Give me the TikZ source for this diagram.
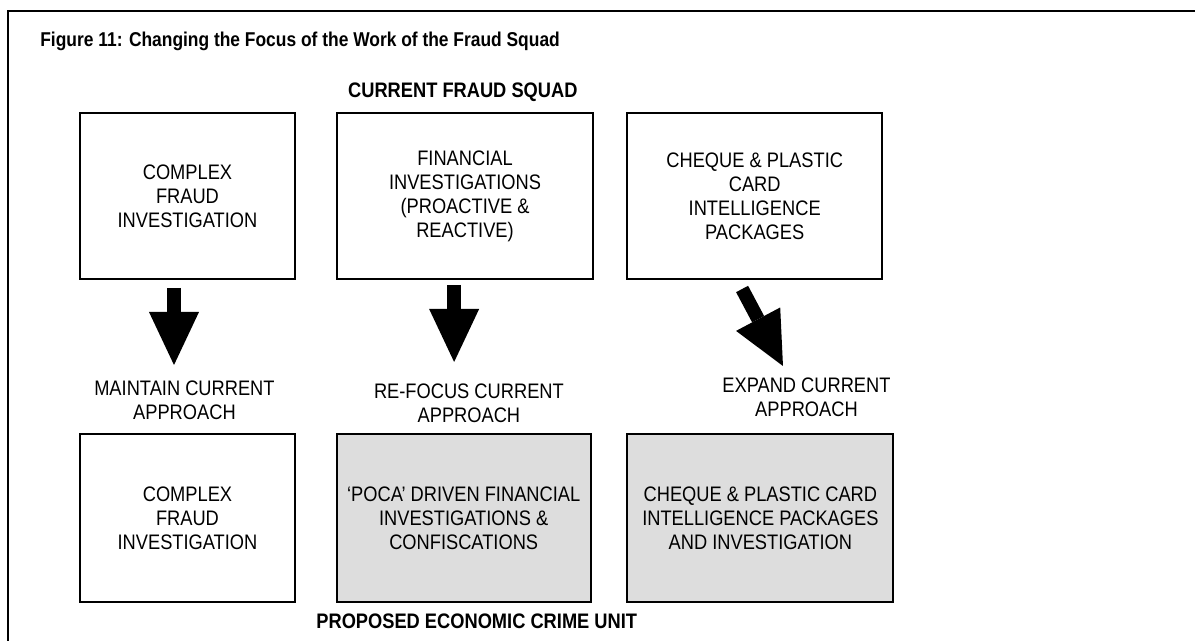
\documentclass[tikz,border=0pt]{standalone}
\usepackage{fontspec}
\setmainfont{Liberation Sans}
\usetikzlibrary{arrows.meta}
\definecolor{boxgray}{RGB}{221,221,221}

\begin{document}
\begin{tikzpicture}[x=0.5pt, y=-0.5pt, xscale=0.87,
  every node/.style={font=\fontsize{10.5}{12}\selectfont, inner sep=0pt, transform shape},
  box/.style={draw, line width=1pt, align=center},
  greybox/.style={box, fill=boxgray},
  lbl/.style={align=center},
  hd/.style={font=\fontsize{10.5}{12}\selectfont\bfseries},
  bigarrow/.style={line width=6.8pt, -{Triangle[length=26.5pt, width=25pt, line width=0pt]}}]
\useasboundingbox (0,0) rectangle (1373.6,641);
\clip (0,0) rectangle (1373.6,641);
\draw[line width=1pt] (9,11) rectangle (1400,670);
\node[hd, font=\fontsize{10}{12}\selectfont\bfseries, anchor=base west] (title) at (46,47) {Figure 11: Changing the Focus of the Work of the Fraud Squad};
\node[hd, anchor=base] (current) at (532,98) {CURRENT FRAUD SQUAD};
\node[box, minimum width=123.5pt, minimum height=83pt] (cfi) at (215.5,196) {COMPLEX\\FRAUD\\INVESTIGATION};
\node[box, minimum width=147.5pt, minimum height=83pt] (fin) at (534.5,196) {FINANCIAL\\INVESTIGATIONS\\(PROACTIVE \&\\REACTIVE)};
\node[box, minimum width=146.5pt, minimum height=83pt] (cheque) at (867.5,196) {CHEQUE \& PLASTIC\\CARD\\INTELLIGENCE\\PACKAGES};
\coordinate (a1s) at (200,288);
\coordinate (a1e) at (200,365);
\coordinate (a2s) at (522,285);
\coordinate (a2e) at (522,362);
\coordinate (a3s) at (853,289);
\coordinate (a3e) at (900,366);
\draw[bigarrow] (a1s) -- (a1e);
\draw[bigarrow] (a2s) -- (a2e);
\draw[bigarrow] (a3s) -- (a3e);
\node[lbl] (maintain) at (212,400) {MAINTAIN CURRENT\\APPROACH};
\node[lbl] (refocus) at (539,403) {RE-FOCUS CURRENT\\APPROACH};
\node[lbl] (expand) at (927,397) {EXPAND CURRENT\\APPROACH};
\node[box, minimum width=123.5pt, minimum height=84pt] (cfi2) at (215.5,518) {COMPLEX\\FRAUD\\INVESTIGATION};
\node[greybox, minimum width=146pt, minimum height=84pt] (poca) at (533,518) {‘POCA’ DRIVEN FINANCIAL\\INVESTIGATIONS \&\\CONFISCATIONS};
\node[greybox, minimum width=153pt, minimum height=84pt] (cheque2) at (874,518) {CHEQUE \& PLASTIC CARD\\INTELLIGENCE PACKAGES\\AND INVESTIGATION};
\node[hd, anchor=base] (proposed) at (548,629) {PROPOSED ECONOMIC CRIME UNIT};
\end{tikzpicture}
\end{document}
